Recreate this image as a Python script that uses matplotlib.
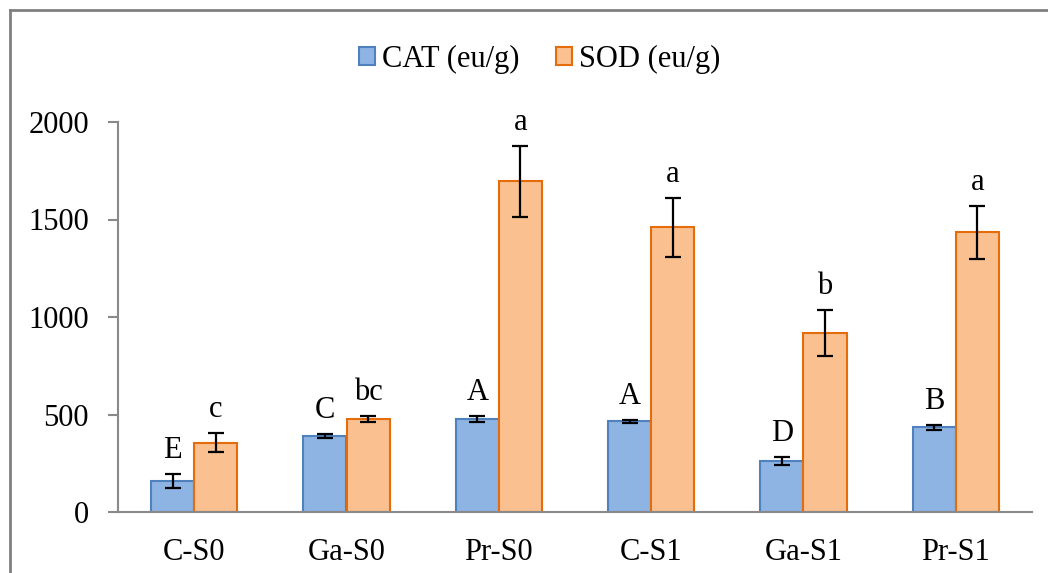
import numpy as np
import matplotlib.pyplot as plt
from matplotlib.lines import Line2D

# dados
tratamentos = ['C-S0', 'Ga-S0', 'Pr-S0', 'C-S1', 'Ga-S1', 'Pr-S1']
cat_media = [160, 390, 475, 465, 260, 435]
cat_erro = [35, 8, 15, 8, 20, 12]
sod_media = [355, 475, 1695, 1460, 918, 1435]
sod_erro = [48, 15, 180, 150, 120, 135]
letras_cat = ['E', 'C', 'A', 'A', 'D', 'B']
letras_sod = ['c', 'bc', 'a', 'a', 'b', 'a']

plt.rcParams['font.family'] = ['Liberation Serif', 'DejaVu Serif']
tamanho = 22

fig = plt.figure(figsize=(10.48, 5.73), dpi=100)
ax = fig.add_axes([118 / 1048, 1 - 512 / 573, 914 / 1048, 390 / 573])

x = np.arange(len(tratamentos))
largura = 0.283
cinza = '#898989'

barras_cat = ax.bar(x - largura / 2, cat_media, largura, color='#8EB4E3',
                    edgecolor='#4F81BD', linewidth=1.5, label='CAT (eu/g)')
barras_sod = ax.bar(x + largura / 2, sod_media, largura, color='#FAC090',
                    edgecolor='#E46C0A', linewidth=1.5, label='SOD (eu/g)')

ax.errorbar(x - largura / 2, cat_media, yerr=cat_erro, fmt='none', ecolor='black',
            elinewidth=1.6, capsize=6, capthick=1.6)
ax.errorbar(x + largura / 2, sod_media, yerr=sod_erro, fmt='none', ecolor='black',
            elinewidth=1.6, capsize=6, capthick=1.6)

# letras de significância acima das barras de erro
for i in range(len(tratamentos)):
    ax.annotate(letras_cat[i], (x[i] - largura / 2, cat_media[i] + cat_erro[i]),
                xytext=(0, 11.5), textcoords='offset points', ha='center',
                va='baseline', fontsize=tamanho)
    ax.annotate(letras_sod[i], (x[i] + largura / 2, sod_media[i] + sod_erro[i]),
                xytext=(0, 11.5), textcoords='offset points', ha='center',
                va='baseline', fontsize=tamanho)

ax.set_xlim(-0.5, len(tratamentos) - 0.5)
ax.set_ylim(0, 2000)
ax.set_yticks([0, 500, 1000, 1500, 2000])
ax.set_xticks(x)
ax.set_xticklabels(tratamentos)
ax.tick_params(axis='y', direction='out', length=7, width=1.5, color=cinza,
               labelsize=tamanho, pad=14)
ax.tick_params(axis='x', length=0, labelsize=tamanho, pad=19)

for lado in ['top', 'right']:
    ax.spines[lado].set_visible(False)
for lado in ['left', 'bottom']:
    ax.spines[lado].set_color(cinza)
    ax.spines[lado].set_linewidth(1.5)

fig.legend(handles=[barras_cat, barras_sod], loc='center',
           bbox_to_anchor=(540 / 1048, 1 - 59 / 573), ncol=2, frameon=False,
           fontsize=tamanho, handlelength=0.52, handleheight=0.52,
           handletextpad=0.23, columnspacing=1.2, borderpad=0)

# moldura da figura (cortada à direita e em baixo)
fig.add_artist(Line2D([10 / 1048, 10 / 1048], [0, 1 - 10 / 573], color='#808080',
                      linewidth=2, transform=fig.transFigure))
fig.add_artist(Line2D([10 / 1048, 1], [1 - 10 / 573, 1 - 10 / 573], color='#808080',
                      linewidth=2, transform=fig.transFigure))

fig.savefig('out.png', dpi=100)
plt.close(fig)
